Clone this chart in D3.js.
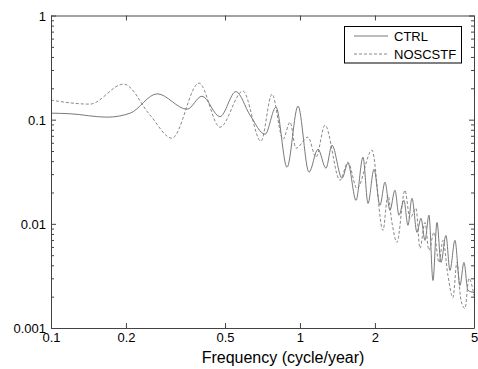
<!DOCTYPE html>
<html>
<head>
<meta charset="utf-8">
<script src="https://cdn.jsdelivr.net/npm/d3@7"></script>
<style>
  body { margin: 0; background: #fff; }
  text { font-family: "Liberation Sans", Arial, sans-serif; fill: #000; }
</style>
</head>
<body>
<script>
// spectra (frequency in cycle/year)
const ctrlFreq = [0.100, 0.119, 0.168, 0.208, 0.267, 0.352, 0.404, 0.477, 0.553, 0.630, 0.724, 0.801, 0.887, 0.982,
  1.087, 1.181, 1.272, 1.344, 1.475, 1.559, 1.679, 1.791, 1.876, 1.983, 2.096, 2.195, 2.298, 2.407, 2.498, 2.616,
  2.714, 2.817, 2.951, 3.062, 3.177, 3.297, 3.421, 3.550, 3.684, 3.857, 4.003, 4.193, 4.391, 4.556, 4.727, 5.0];
const ctrlVal = [0.1155, 0.114, 0.1057, 0.1155, 0.177, 0.126, 0.168, 0.1069, 0.186, 0.1105, 0.0725, 0.132, 0.0349, 0.1348,
  0.0313, 0.052, 0.0342, 0.0569, 0.0274, 0.0382, 0.0168, 0.0436, 0.0157, 0.0334, 0.0151, 0.0251, 0.0135, 0.021, 0.0121, 0.0168,
  0.00967, 0.0176, 0.00828, 0.0113, 0.00694, 0.0121, 0.00286, 0.0103, 0.00426, 0.00774, 0.00357, 0.00694, 0.00256, 0.00426, 0.0023, 0.00219];

const noscFreq = [0.100, 0.143, 0.196, 0.250, 0.306, 0.393, 0.477, 0.590, 0.697, 0.772, 0.855, 0.912, 0.964, 1.077,
  1.160, 1.260, 1.448, 1.559, 1.694, 1.946, 2.154, 2.256, 2.341, 2.452, 2.640, 2.765, 2.924, 3.034, 3.177, 3.297,
  3.453, 3.616, 3.752, 3.929, 4.116, 4.271, 4.432, 4.599, 4.771, 5.0];
const noscVal = [0.154, 0.141, 0.2195, 0.1105, 0.0664, 0.2244, 0.0847, 0.188, 0.0621, 0.1759, 0.065, 0.0946, 0.0532, 0.0679,
  0.0436, 0.0886, 0.0262, 0.039, 0.0219, 0.0509, 0.00866, 0.0188, 0.0103, 0.00664, 0.021, 0.0113, 0.0141, 0.00581, 0.0103, 0.00556,
  0.00828, 0.00426, 0.00694, 0.0032, 0.00196, 0.00426, 0.00184, 0.00154, 0.00299, 0.00205];

const xTicks = [0.1, 0.2, 0.5, 1, 2, 5];
const xTickLabels = ['0.1', '0.2', '0.5', '1', '2', '5'];
const yTicks = [0.001, 0.01, 0.1, 1];
const yTickLabels = ['0.001', '0.01', '0.1', '1'];
const seriesNames = ['CTRL', 'NOSCSTF'];

const width = 478, height = 369;
const margin = {top: 15.5, right: 4, bottom: 41, left: 51};

const svg = d3.select('body').append('svg')
  .attr('width', width)
  .attr('height', height);

const x = d3.scaleLog().domain([0.1, 5]).range([margin.left, width - margin.right]);
const y = d3.scaleLog().domain([0.001, 1]).range([height - margin.bottom, margin.top]);

// minor ticks for y (2..9 in each decade)
const yMinor = [];
[0.001, 0.01, 0.1].forEach(d => { for (let k = 2; k <= 9; k++) yMinor.push(d * k); });

const axisColor = '#444';

const line = d3.line()
  .x(d => x(d[0]))
  .y(d => y(d[1]))
  .curve(d3.curveMonotoneX);

const plot = svg.append('g');

plot.append('path')
  .datum(ctrlFreq.map((f, i) => [f, ctrlVal[i]]))
  .attr('fill', 'none')
  .attr('stroke', '#6a6a6a')
  .attr('stroke-width', 0.9)
  .attr('d', line);

plot.append('path')
  .datum(noscFreq.map((f, i) => [f, noscVal[i]]))
  .attr('fill', 'none')
  .attr('stroke', '#7a7a7a')
  .attr('stroke-width', 0.9)
  .attr('stroke-dasharray', '3,2')
  .attr('d', line);

// axes: ticks pointing inward
const xb = svg.append('g').attr('transform', `translate(0,${y(0.001)})`)
  .call(d3.axisBottom(x).tickValues(xTicks).tickSizeInner(-5).tickSizeOuter(0)
    .tickFormat((d, i) => xTickLabels[i]));
xb.selectAll('text').attr('dy', 0).attr('y', 14).style('font-size', '13px');

svg.append('g').attr('transform', `translate(0,${y(1)})`)
  .call(d3.axisTop(x).tickValues(xTicks).tickSizeInner(-5).tickSizeOuter(0).tickFormat(''));

const yl = svg.append('g').attr('transform', `translate(${x(0.1)},0)`)
  .call(d3.axisLeft(y).tickValues(yTicks).tickSizeInner(-5).tickSizeOuter(0)
    .tickFormat((d, i) => yTickLabels[i]));
yl.selectAll('text').attr('x', -5).attr('dy', '0.35em').style('font-size', '13px');

svg.append('g').attr('transform', `translate(${x(5)},0)`)
  .call(d3.axisRight(y).tickValues(yTicks).tickSizeInner(-5).tickSizeOuter(0).tickFormat(''));

svg.append('g').attr('transform', `translate(${x(0.1)},0)`)
  .call(d3.axisLeft(y).tickValues(yMinor).tickSizeInner(-3).tickSizeOuter(0).tickFormat(''))
  .select('.domain').remove();
svg.append('g').attr('transform', `translate(${x(5)},0)`)
  .call(d3.axisRight(y).tickValues(yMinor).tickSizeInner(-3).tickSizeOuter(0).tickFormat(''))
  .select('.domain').remove();

svg.selectAll('.domain, .tick line').attr('stroke', axisColor);
svg.selectAll('.tick text').attr('fill', '#000');

// x-axis title
svg.append('text')
  .attr('x', 283)
  .attr('y', 363)
  .attr('text-anchor', 'middle')
  .style('font-size', '16px')
  .text('Frequency (cycle/year)');

// legend
const lg = svg.append('g');
lg.append('rect')
  .attr('x', 344.5).attr('y', 26.5).attr('width', 117).attr('height', 36.5)
  .attr('fill', '#fff').attr('stroke', '#000').attr('stroke-width', 1);
seriesNames.forEach((name, i) => {
  const yy = 36 + i * 18;
  lg.append('line')
    .attr('x1', 354).attr('x2', 388).attr('y1', yy).attr('y2', yy)
    .attr('stroke', i === 0 ? '#6a6a6a' : '#7a7a7a')
    .attr('stroke-width', 0.9)
    .attr('stroke-dasharray', i === 0 ? null : '3,2');
  lg.append('text')
    .attr('x', 394).attr('y', yy + 4.5)
    .style('font-size', '13px')
    .text(name);
});
</script>
</body>
</html>
